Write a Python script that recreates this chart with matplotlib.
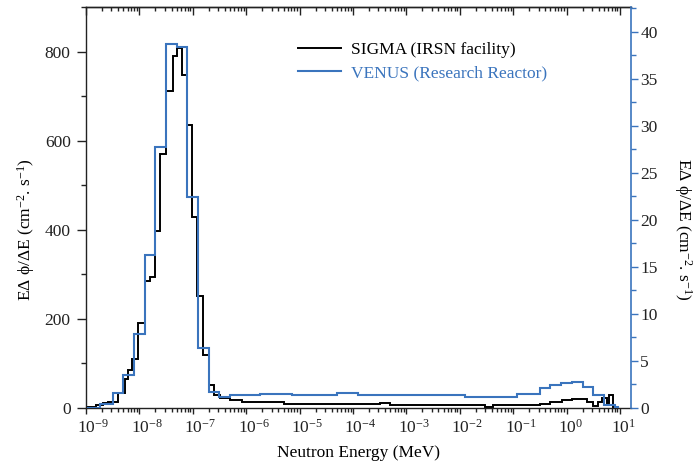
import matplotlib
matplotlib.use("Agg")
import matplotlib.pyplot as plt
import numpy as np
from matplotlib.ticker import LogLocator, NullFormatter, MultipleLocator
from matplotlib.transforms import ScaledTranslation
from matplotlib.lines import Line2D

# SIGMA (IRSN facility), bin edges as log10(E / MeV) and flux in cm-2.s-1 (left axis)
sigma_log_edges = [-8.99, -8.81, -8.68, -8.58, -8.40, -8.27, -8.21, -8.13, -8.02, -7.90,
                   -7.80, -7.70, -7.61, -7.50, -7.38, -7.29, -7.20, -7.11, -7.01, -6.92,
                   -6.80, -6.70, -6.60, -6.49, -6.30, -6.08, -5.30, -3.49, -3.31, -1.53,
                   -1.37, -0.50, -0.31, -0.09, 0.10, 0.38, 0.50, 0.59, 0.66, 0.75,
                   0.79, 0.88, 0.94]
sigma_flux = [1.5, 6.7, 10.5, 12.8, 33, 65, 85, 111, 192, 286,
              295, 398, 570, 713, 791, 808, 748, 636, 430, 252,
              119, 52, 29, 22, 18, 14, 9, 10.5, 6.5, 3,
              6.5, 8, 14, 18, 19.5, 14, 4.5, 14, 22, 10.5,
              29, 1.5]

# VENUS (Research Reactor), right axis
venus_log_edges = [-8.99, -8.74, -8.50, -8.30, -8.10, -7.90, -7.70, -7.50, -7.30, -7.10,
                   -6.90, -6.70, -6.50, -6.30, -5.74, -5.15, -4.30, -3.90, -1.90, -0.93,
                   -0.50, -0.30, -0.10, 0.10, 0.30, 0.50, 0.70, 0.90, 0.97]
venus_flux = [0.05, 0.4, 1.55, 3.5, 7.9, 16.3, 27.8, 38.7, 38.4, 22.4,
              6.35, 1.73, 1.14, 1.38, 1.5, 1.38, 1.55, 1.38, 1.2, 1.49,
              2.09, 2.44, 2.69, 2.8, 2.26, 1.33, 0.37, 0.1]

labels = ['SIGMA (IRSN facility)', 'VENUS (Research Reactor)']

blue = '#3a74bd'
dark = '#222222'

plt.rcParams['font.family'] = ['Liberation Serif', 'DejaVu Serif']
plt.rcParams['mathtext.fontset'] = 'custom'
plt.rcParams['mathtext.rm'] = 'Liberation Serif'
plt.rcParams['mathtext.it'] = 'Liberation Serif:italic'
plt.rcParams['mathtext.bf'] = 'Liberation Serif:bold'
plt.rcParams['font.size'] = 12.5
plt.rcParams['axes.linewidth'] = 1.0

fig = plt.figure(figsize=(6.96, 4.66), dpi=100)
ax = fig.add_axes([0.1236, 0.1245, 0.906 - 0.1236, 0.9843 - 0.1245])

xlim = (1e-9, 10 ** 1.2)
ylabel = 'EΔ ϕ/ΔE (cm$^{-2}$. s$^{-1}$)'

ax.stairs(sigma_flux, 10.0 ** np.array(sigma_log_edges), baseline=0,
          color='black', lw=1.4)
ax.set_xscale('log')
ax.set_xlim(*xlim)
ax.set_ylim(0, 900)
ax.xaxis.set_minor_locator(LogLocator(base=10, subs=np.arange(2, 10), numticks=20))
ax.xaxis.set_minor_formatter(NullFormatter())
ax.yaxis.set_major_locator(MultipleLocator(200))
ax.yaxis.set_minor_locator(MultipleLocator(100))
ax.tick_params(axis='y', which='major', direction='out', length=6.5, width=1, pad=4.5, colors=dark)
ax.tick_params(axis='y', which='minor', direction='out', length=3.5, width=1, colors=dark)
ax.tick_params(axis='x', which='major', direction='out', length=4.5, width=1, pad=3, colors=dark, top=False)
ax.tick_params(axis='x', which='minor', direction='out', length=3, width=1, colors=dark, top=False)
ax.spines['right'].set_visible(False)
for s in ['left', 'bottom', 'top']:
    ax.spines[s].set_color(dark)
ax.set_xlabel('Neutron Energy (MeV)', labelpad=6)
ax.set_ylabel(ylabel)
ax.yaxis.set_label_coords(-0.09, 0.445)

# centre the "10" of each label on its tick, exponent hangs to the right
ax.set_xticks(10.0 ** np.arange(-9, 2))
ax.set_xlim(*xlim)
shift = ScaledTranslation(-6.2 / 72, 0, fig.dpi_scale_trans)
for t in ax.xaxis.get_major_ticks():
    t.label1.set_horizontalalignment('left')
    t.label1.set_transform(t.label1.get_transform() + shift)

# top ticks pointing inward
axt = ax.twiny()
axt.set_xscale('log')
axt.set_xlim(*xlim)
axt.xaxis.set_major_locator(LogLocator(base=10, numticks=20))
axt.xaxis.set_minor_locator(LogLocator(base=10, subs=np.arange(2, 10), numticks=20))
axt.tick_params(axis='x', which='major', direction='in', length=5.5, width=1, colors=dark,
                labeltop=False, top=True, bottom=False)
axt.tick_params(axis='x', which='minor', direction='in', length=3, width=1, colors=dark,
                top=True, bottom=False)
for s in ['left', 'right', 'bottom']:
    axt.spines[s].set_visible(False)
axt.spines['top'].set_color(dark)

ax2 = ax.twinx()
ax2.stairs(venus_flux, 10.0 ** np.array(venus_log_edges), baseline=0,
           color=blue, lw=1.5)
ax2.set_xlim(*xlim)
ax2.set_ylim(0, 42.6)
ax2.yaxis.set_major_locator(MultipleLocator(5))
ax2.yaxis.set_minor_locator(MultipleLocator(2.5))
ax2.tick_params(axis='y', which='major', direction='out', length=5, width=1, pad=2,
                color=blue, labelcolor=dark)
ax2.tick_params(axis='y', which='minor', direction='out', length=3.5, width=1, color=blue)
for s in ['left', 'top', 'bottom']:
    ax2.spines[s].set_visible(False)
ax2.spines['right'].set_color(blue)
ax2.spines['right'].set_linewidth(1.2)
ax2.set_ylabel(ylabel, rotation=270)
ax2.yaxis.set_label_coords(1.117, 0.445)

handles = [Line2D([], [], color='black', lw=1.4), Line2D([], [], color=blue, lw=1.5)]
leg = ax2.legend(handles, labels, loc='upper left', bbox_to_anchor=(0.373, 0.935),
                 frameon=False, borderpad=0, handlelength=2.5, handletextpad=0.55,
                 labelspacing=0.38, fontsize=12.5)
leg.get_texts()[1].set_color(blue)

fig.savefig('out.png', dpi=100)
